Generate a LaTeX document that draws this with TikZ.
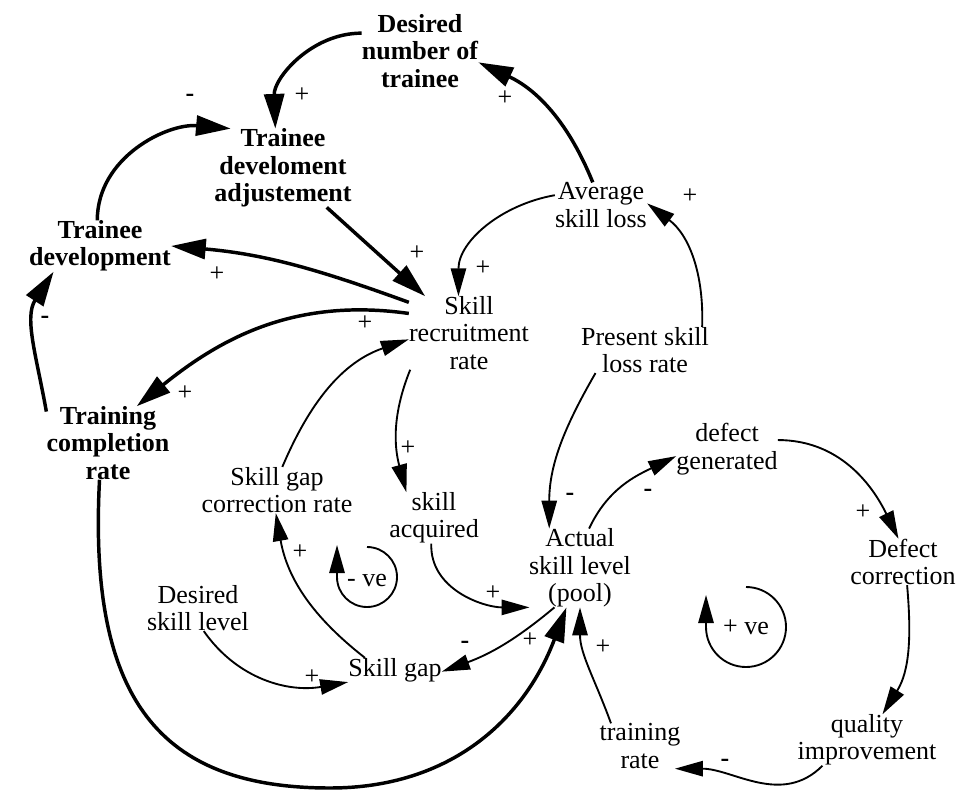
\documentclass[tikz,border=0pt]{standalone}
\usepackage{fontspec}
\setmainfont{Liberation Serif}
\usetikzlibrary{arrows.meta}
\tikzset{
    var/.style={align=center, inner sep=0pt, font=\fontsize{19.5}{20.5}\selectfont},
    keyvar/.style={var, font=\fontsize{19.5}{20.5}\selectfont\bfseries},
    sign/.style={inner sep=0pt, font=\fontsize{19.5}{20.5}\selectfont},
    link/.style={line width=1.4pt, -{Triangle[length=21pt,width=11.5pt]}},
    biglink/.style={line width=2.6pt, -{Triangle[length=26pt,width=15pt]}},
}
\begin{document}
\begin{tikzpicture}[x=0.75pt,y=0.75pt]
        \useasboundingbox (0,0) rectangle (959,-795);
        \node[keyvar] (DesNum) at (420,-51) {Desired\\number of\\trainee};
        \node[keyvar] (TDA) at (283,-168) {Trainee\\develoment\\adjustement};
        \node[keyvar] (TD) at (100,-246) {Trainee\\development};
        \node[keyvar] (TCR) at (108,-443) {Training\\completion\\rate};
        \node[var] (SRR) at (469,-333) {Skill\\recruitment\\rate};
        \node[var] (ASL) at (601,-205) {Average\\skill loss};
        \node[var] (PSL) at (645,-350) {Present skill\\loss rate};
        \node[var] (SGCR) at (277,-490) {Skill gap\\correction rate};
        \node[var] (SA) at (434,-518) {skill\\acquired};
        \node[var] (ActSL) at (580,-568) {Actual\\skill level\\(pool)};
        \node[var] (DG) at (727,-449) {defect\\generated};
        \node[var] (DC) at (903,-562) {Defect\\correction};
        \node[var] (QI) at (867,-740) {quality\\improvement};
        \node[var] (TR) at (640,-746) {training\\rate};
        \node[var] (DSL) at (198,-608) {Desired\\skill level};
        \node[var] (SG) at (395,-670) {Skill gap};
        \node[var] (negloop) at (367,-580) {- ve};
        \node[var] (posloop) at (746,-627) {+ ve};

        \draw[biglink] (DesNum.163) to[out=180,in=92] (TDA.101);
        \draw[biglink] (TD.96) to[out=90,in=175] (TDA.143);
        \draw[biglink] (TDA.-42) -- (SRR.140);
        \draw[biglink] (SRR.153) to[out=160,in=-5] (TD.0);
        \draw[biglink] (SRR.162) to[out=172,in=39] (TCR.52);
        \draw[biglink] (TCR.153) to[out=100,in=-123] (TD.-151);
        \draw[biglink] (ASL.110) to[out=112,in=-25] (DesNum.-11);
        \draw[biglink] (TCR.-103) .. controls (88,-700) and (160,-788) .. (330,-788) .. controls (450,-788) and (524,-720) .. (ActSL.251);
        \draw[link] (ASL.168) to[out=190,in=90] (SRR.106);
        \draw[link] (PSL.22) to[out=88,in=-37] (ASL.2);
        \draw[link] (PSL.205) to[out=240,in=90] (ActSL.128);
        \draw[link] (SRR.212) to[out=248,in=105] (SA.137);
        \draw[link] (SGCR.77) to[out=67,in=199] (SRR.186);
        \draw[link] (SA.264) to[out=268,in=180] (ActSL.218);
        \draw[link] (ActSL.237) to[out=220,in=20] (SG.-2);
        \draw[link] (SG.158) to[out=142,in=-80] (SGCR.267);
        \draw[link] (DSL.-76) to[out=-55,in=190] (SG.south west);
        \draw[link] (TR.142) to[out=110,in=-90] (ActSL.south);
        \draw[link] (ActSL.77) to[out=65,in=206] (DG.188);
        \draw[link] (DG.10) to[out=0,in=116] (DC.101);
        \draw[link] (DC.-80) to[out=-85,in=58] (QI.59);
        \draw[link] (QI.210) to[out=225,in=0] (TR.-33);
        \draw[link] (367,-547) arc[start angle=90,end angle=-180,radius=22.5pt] -- ++(0,32);
        \draw[link] (746,-587) arc[start angle=90,end angle=-180,radius=30pt] -- ++(0,32);

        \foreach \x/\y [count=\i] in {302/95, 417/253, 217/274, 365/323, 185/393, 505/98, 483/268, 690/196,
            408/448, 493/593, 530/640, 300/552, 312/677, 603/647, 863/512}
            \node[sign] (plus\i) at (\x,-\y) {+};
        \foreach \x/\y [count=\i] in {190/98, 45/320, 570/497, 465/645, 648/493, 725/763}
            \node[sign] (minus\i) at (\x,-\y) {\bfseries -};
\end{tikzpicture}
\end{document}
